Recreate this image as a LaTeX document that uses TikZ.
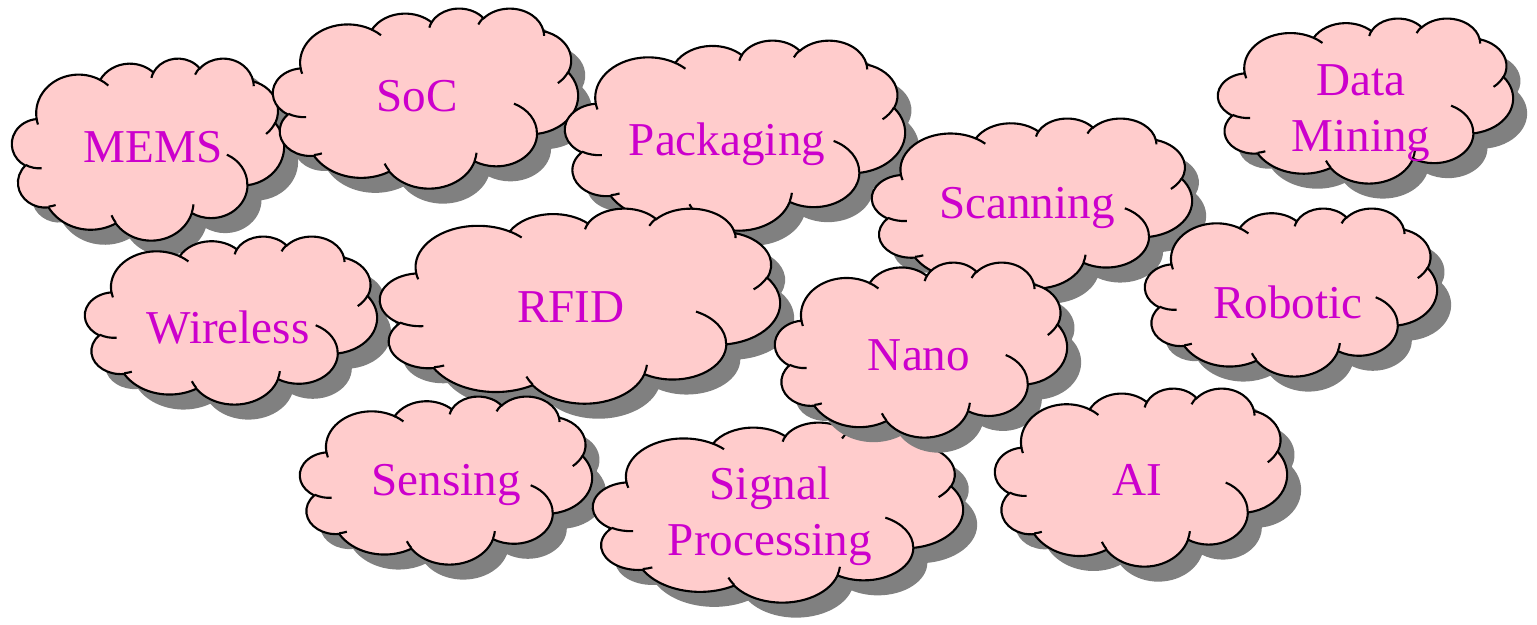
\documentclass[tikz,border=0pt]{standalone}
\usepackage{fontspec}
\setmainfont{Liberation Serif}

\definecolor{cloudpink}{HTML}{FFCCCC}
\definecolor{cloudshade}{HTML}{808080}
\definecolor{cloudink}{HTML}{CC00CC}

% one cloud in a 43.2 x 43.2 box, y pointing down, angles as seen from the centre
\newcommand\cloudarc[4]{arc[x radius=#1,y radius=#2,start angle={vis(#3,#1/#2)},end angle={vis(#3+#4,#1/#2)}]}
\newcommand\cloudpath{(3.900,14.370)
  \cloudarc{6.753}{9.190}{-190.487}{123.781}
  \cloudarc{5.333}{7.267}{-144.102}{89.945}
  \cloudarc{4.365}{5.945}{-145.808}{99.723}
  \cloudarc{4.857}{6.595}{-130.986}{117.242}
  \cloudarc{5.333}{7.273}{-78.709}{109.027}
  \cloudarc{6.775}{9.220}{-46.267}{130.269}
  \cloudarc{5.785}{7.867}{0.625}{114.033}
  \cloudarc{6.752}{9.215}{22.452}{115.173}
  \cloudarc{7.720}{10.543}{66.243}{75.711}
  \cloudarc{4.360}{5.918}{-274.942}{146.736}
  \cloudarc{4.345}{5.945}{-246.829}{152.519} -- cycle}
\newcommand\cloudcurls{(4.693,26.177) \cloudarc{4.345}{5.945}{86.742}{26.430}
  (6.928,34.899) \cloudarc{4.360}{5.918}{73.610}{11.447}
  (16.478,39.090) \cloudarc{6.752}{9.215}{137.624}{14.081}
  (28.827,34.751) \cloudarc{6.752}{9.215}{6.453}{15.998}
  (34.129,22.954) \cloudarc{5.785}{7.867}{-70.292}{70.917}
  (41.798,15.354) \cloudarc{5.333}{7.273}{30.318}{27.752}
  (38.324,5.426) \cloudarc{4.857}{6.595}{-13.744}{14.859}
  (29.078,3.952) \cloudarc{4.857}{6.595}{-149.181}{18.195}
  (22.141,4.720) \cloudarc{4.365}{5.945}{-163.494}{17.686}
  (14.000,5.192) \cloudarc{6.753}{9.190}{-66.707}{12.319}
  (4.127,15.789) \cloudarc{6.753}{9.190}{157.654}{11.858}}

\begin{document}
\begin{tikzpicture}[x=0.01cm,y=-0.01cm,
    declare function={vis(\a,\k)=\a+mod(atan2(\k*sin(\a),cos(\a))-\a+540,360)-180;},
    cloud shadow/.style={fill=cloudshade},
    cloud body/.style={fill=cloudpink,draw=black,line width=0.6pt},
    cloud line/.style={draw=black,line width=0.6pt},
    cloud text/.style={text=cloudink,font=\fontsize{13.4}{16}\selectfont,align=center,inner sep=0pt},
    pics/cloud/.style 2 args={code={
      \fill[cloud shadow,shift={(14,15)},xscale=#1/43.2,yscale=#2/43.2] \cloudpath;
      \path[cloud body,xscale=#1/43.2,yscale=#2/43.2] \cloudpath;
      \path[cloud line,xscale=#1/43.2,yscale=#2/43.2] \cloudcurls;
    }}]
  \useasboundingbox (0,0) rectangle (1537,625);

  \pic (mems) at (12,58) {cloud={272}{182}};
  \node[cloud text] (memstext) at (153,147) {MEMS};

  \pic (soc) at (273,8) {cloud={305}{180}};
  \node[cloud text] (soctext) at (417,96) {SoC};

  \pic (pack) at (565,40) {cloud={340}{190}};
  \node[cloud text] (packtext) at (727,144) {Packaging};

  \pic (scan) at (872,118) {cloud={320}{170}};
  \node[cloud text] (scantext) at (1027,208) {Scanning};

  \pic (mining) at (1218,18) {cloud={295}{165}};
  \node[cloud text] (miningtext) at (1361,113) {Data\\Mining};

  \pic (wireless) at (85,236) {cloud={292}{168}};
  \node[cloud text] (wirelesstext) at (228,328) {Wireless};

  \pic (rfid) at (380,208) {cloud={400}{195}};
  \node[cloud text] (rfidtext) at (571,307) {RFID};

  \pic (sensing) at (300,396) {cloud={292}{168}};
  \node[cloud text] (sensingtext) at (446,485) {Sensing};

  \pic (signal) at (593,422) {cloud={370}{180}};
  \node[cloud text] (signaltext) at (770,516) {Signal\\Processing};

  \pic (nano) at (775,262) {cloud={292}{175}};
  \node[cloud text] (nanotext) at (919,355) {Nano};

  \pic (robotic) at (1145,208) {cloud={292}{168}};
  \node[cloud text] (robotictext) at (1288,302) {Robotic};

  \pic (ai) at (995,388) {cloud={292}{178}};
  \node[cloud text] (aitext) at (1137,480) {AI};
\end{tikzpicture}
\end{document}
